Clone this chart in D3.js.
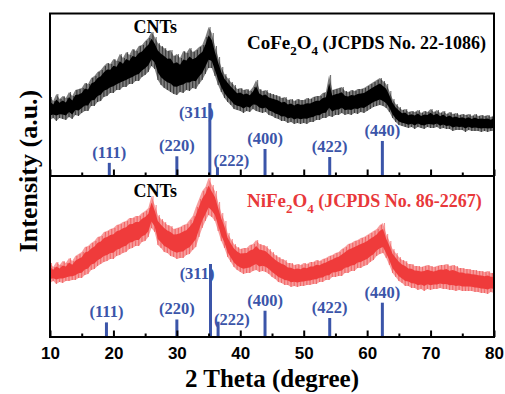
<!DOCTYPE html>
<html>
<head>
<meta charset="utf-8">
<script src="https://cdn.jsdelivr.net/npm/d3@7"></script>
<style>
  body { margin: 0; background: #fff; }
  svg { display: block; }
</style>
</head>
<body>
<div id="chart"></div>
<script>

// 2 theta grid of the scans (every 0.5 degree, 10 - 80)
var twoTheta = d3.range(0, 141).map(function(i) { return 10 + i * 0.5; });

// CoFe2O4 scan: upper and lower edge of the noisy trace (a.u.)
var coUpper = [79, 75, 82, 77, 80, 78, 84, 80, 86, 87,
  88, 93, 92, 98, 100, 104, 106, 110, 113, 112,
  117, 115, 122, 118, 124, 121, 127, 125, 130, 131,
  135, 138, 144, 139, 133, 130, 128, 125, 126, 120,
  122, 118, 125, 123, 128, 124, 126, 129, 131, 139,
  149, 143, 130, 119, 109, 102, 98, 94, 91, 87,
  88, 86, 87, 85, 89, 96, 87, 85, 86, 83,
  82, 81, 80, 78, 79, 76, 77, 75, 77, 76,
  76, 78, 77, 79, 80, 80, 83, 84, 101, 86,
  87, 88, 89, 85, 84, 86, 85, 87, 87, 88,
  90, 92, 94, 96, 98, 95, 92, 85, 77, 72,
  69, 66, 67, 64, 65, 64, 66, 63, 65, 64,
  67, 64, 66, 63, 65, 62, 64, 62, 63, 61,
  62, 61, 62, 60, 62, 60, 61, 60, 61, 59,
  61];
var coLower = [56, 58, 55, 58, 57, 56, 59, 57, 61, 60,
  63, 65, 65, 70, 70, 74, 75, 79, 80, 83,
  83, 86, 86, 89, 89, 92, 92, 95, 95, 99,
  101, 104, 110, 107, 96, 91, 88, 86, 84, 82,
  81, 84, 83, 86, 85, 88, 87, 92, 96, 102,
  108, 108, 100, 91, 84, 78, 74, 71, 67, 66,
  65, 63, 65, 64, 67, 65, 64, 63, 64, 61,
  60, 58, 57, 55, 55, 53, 54, 52, 53, 52,
  53, 52, 54, 54, 56, 56, 58, 58, 60, 59,
  61, 61, 63, 61, 62, 61, 63, 62, 64, 63,
  65, 67, 69, 70, 71, 70, 68, 64, 58, 54,
  51, 50, 49, 48, 49, 47, 49, 48, 47, 49,
  48, 48, 49, 47, 48, 47, 47, 45, 46, 46,
  46, 44, 46, 45, 45, 45, 44, 45, 44, 45,
  45];

// NiFe2O4 scan
var niUpper = [74, 70, 75, 72, 76, 74, 79, 76, 81, 83,
  85, 90, 91, 94, 96, 100, 101, 105, 106, 108,
  109, 112, 113, 115, 116, 119, 119, 121, 121, 124,
  126, 129, 141, 132, 122, 118, 115, 112, 111, 108,
  109, 110, 112, 113, 117, 121, 130, 138, 146, 150,
  159, 152, 146, 135, 124, 116, 104, 98, 93, 90,
  88, 89, 89, 92, 93, 97, 93, 92, 91, 88,
  85, 82, 80, 78, 77, 74, 74, 72, 73, 72,
  74, 73, 75, 75, 77, 76, 78, 79, 81, 82,
  84, 85, 88, 90, 93, 94, 96, 97, 99, 100,
  102, 104, 106, 108, 112, 114, 103, 96, 88, 84,
  80, 77, 76, 73, 73, 71, 71, 70, 71, 72,
  71, 70, 71, 72, 72, 73, 71, 72, 71, 69,
  69, 68, 68, 67, 67, 66, 66, 65, 66, 64,
  64];
var niLower = [54, 56, 53, 55, 54, 56, 56, 57, 57, 59,
  59, 62, 63, 67, 68, 71, 73, 75, 76, 78,
  78, 81, 82, 84, 85, 88, 89, 91, 91, 95,
  96, 100, 109, 105, 92, 89, 85, 84, 81, 80,
  78, 79, 79, 82, 83, 87, 90, 100, 109, 116,
  122, 120, 116, 106, 96, 89, 80, 75, 70, 67,
  65, 63, 64, 64, 66, 67, 65, 66, 65, 63,
  60, 58, 55, 54, 52, 52, 50, 51, 50, 51,
  51, 52, 52, 53, 53, 55, 55, 57, 57, 60,
  60, 61, 61, 64, 64, 66, 66, 69, 69, 71,
  72, 75, 77, 81, 83, 84, 79, 72, 64, 60,
  56, 54, 51, 51, 49, 49, 47, 48, 46, 48,
  47, 48, 48, 49, 48, 48, 47, 47, 46, 47,
  46, 46, 46, 46, 45, 45, 44, 44, 43, 45,
  44];

// reference patterns (JCPDS sticks)
var hkl = ["(111)", "(220)", "(311)", "(222)", "(400)", "(422)", "(440)"];
var coPeaks = [19.35, 30.0, 35.2, 36.4, 43.9, 54.1, 62.4];
var coRel = [18, 27, 100, 12, 37, 26, 48];
var niPeaks = [18.9, 30.0, 35.3, 36.5, 43.9, 54.1, 62.4];
var niRel = [20, 24, 100, 21, 36, 26, 47];

var xTicks = [10, 20, 30, 40, 50, 60, 70, 80];
var xMinor = [15, 25, 35, 45, 55, 65, 75];

var width = 505, height = 394;
var left = 50, right = 494;
var serif = "'Liberation Serif', 'Times New Roman', serif";
var sans = "'Liberation Sans', Arial, sans-serif";
var blue = "#3b55a9";

var svg = d3.select("#chart").append("svg")
  .attr("width", width)
  .attr("height", height);

var x = d3.scaleLinear().domain([10, 80]).range([left, right]);

function panel(p) {
  var y = d3.scaleLinear().domain([0, p.bottom - p.top]).range([p.bottom, p.top]);
  var ys = d3.scaleLinear().domain([0, 100]).range([p.bottom, p.bottom - 73]);

  var g = svg.append("g");
  g.append("clipPath").attr("id", p.id)
    .append("rect")
    .attr("x", left).attr("y", p.top)
    .attr("width", right - left).attr("height", p.bottom - p.top);

  var pts = twoTheta.map(function(t, i) {
    return { t: t, hi: p.upper[i], lo: p.lower[i] };
  });

  var curve = g.append("g").attr("clip-path", "url(#" + p.id + ")");

  // faint outer envelope (the spikes)
  curve.append("path")
    .datum(pts)
    .attr("fill", p.color)
    .attr("opacity", 0.5)
    .attr("d", d3.area()
      .x(function(d) { return x(d.t); })
      .y0(function(d) { return y(d.lo); })
      .y1(function(d) { return y(d.hi); }));

  // min-max trace, thin
  var zig = "";
  pts.forEach(function(d, i) {
    zig += (i ? "L" : "M") + x(d.t) + "," + y(d.lo) + "L" + (x(d.t) + 1.5) + "," + y(d.hi);
  });
  curve.append("path")
    .attr("d", zig)
    .attr("fill", "none")
    .attr("stroke", p.color)
    .attr("stroke-opacity", 0.6)
    .attr("stroke-width", 0.6);

  // dense core
  curve.append("path")
    .datum(pts)
    .attr("fill", p.color)
    .attr("d", d3.area()
      .x(function(d) { return x(d.t); })
      .y0(function(d) { return y((d.hi + d.lo) / 2 - (d.hi - d.lo) * 0.3); })
      .y1(function(d) { return y((d.hi + d.lo) / 2 + (d.hi - d.lo) * 0.3); }));

  // hkl labels
  g.selectAll(".hkl")
    .data(hkl)
    .enter().append("text")
    .attr("x", function(d, i) {
      if (d == "(311)") return x(p.peaks[i]) + 4;
      if (d == "(222)") return x(p.peaks[i]) - 4;
      return x(p.peaks[i]);
    })
    .attr("y", function(d, i) {
      if (d == "(311)") return ys(p.rel[i]) + 15;
      if (d == "(222)") return p.bottom - p.lab222;
      return ys(p.rel[i]) - 5;
    })
    .attr("text-anchor", function(d) {
      if (d == "(311)") return "end";
      if (d == "(222)") return "start";
      return "middle";
    })
    .style("font-family", serif)
    .style("font-weight", "bold")
    .style("font-size", "16.5px")
    .style("fill", blue)
    .text(function(d) { return d; });

  // sticks
  g.selectAll(".stick")
    .data(p.rel)
    .enter().append("line")
    .attr("x1", function(d, i) { return x(p.peaks[i]); })
    .attr("x2", function(d, i) { return x(p.peaks[i]); })
    .attr("y1", p.bottom)
    .attr("y2", function(d) { return ys(d); })
    .attr("stroke", blue)
    .attr("stroke-width", 3);

  // CNTs
  g.append("text")
    .attr("x", x(26.6))
    .attr("y", p.top + p.cntY)
    .attr("text-anchor", "middle")
    .style("font-family", serif)
    .style("font-weight", "bold")
    .style("font-size", "18px")
    .text("CNTs");

  // phase label
  var lab = g.append("text")
    .attr("x", 247)
    .attr("y", p.top + p.labY)
    .style("font-family", serif)
    .style("font-weight", "bold")
    .style("font-size", "19px")
    .style("fill", p.textColor);
  lab.append("tspan").text(p.phase[0]);
  lab.append("tspan").attr("dy", 6).style("font-size", "13px").text("2");
  lab.append("tspan").attr("dy", -6).text("O");
  lab.append("tspan").attr("dy", 6).style("font-size", "13px").text("4");
  lab.append("tspan").attr("dy", -6).style("font-size", "18px").text(" (JCPDS No. " + p.phase[1] + ")");

  // inward ticks at the bottom of the panel
  var ax = g.append("g")
    .attr("transform", "translate(0," + p.bottom + ")")
    .call(d3.axisTop(x).tickValues(xTicks.concat(xMinor)).tickSize(6).tickFormat(""));
  ax.select(".domain").remove();
  ax.selectAll(".tick line")
    .attr("stroke", "#000")
    .attr("stroke-width", 2)
    .attr("y2", function(d) { return xMinor.indexOf(d) >= 0 ? -3.5 : -6.5; });

  // frame
  g.append("rect")
    .attr("x", left).attr("y", p.top)
    .attr("width", right - left).attr("height", p.bottom - p.top)
    .attr("fill", "none")
    .attr("stroke", "#000")
    .attr("stroke-width", 2);
}

panel({ id: "clipCo", top: 13.5, bottom: 176, upper: coUpper, lower: coLower,
  peaks: coPeaks, rel: coRel, color: "#000", textColor: "#000",
  phase: ["CoFe", "22-1086"], labY: 35, cntY: 19, lab222: 10 });

panel({ id: "clipNi", top: 176, bottom: 337, upper: niUpper, lower: niLower,
  peaks: niPeaks, rel: niRel, color: "#ef3b3b", textColor: "#e8383a",
  phase: ["NiFe", "86-2267"], labY: 31, cntY: 21, lab222: 12 });

// x tick labels
var xl = svg.append("g")
  .attr("transform", "translate(0,337)")
  .call(d3.axisBottom(x).tickValues(xTicks).tickSize(0).tickFormat(d3.format("d")));
xl.select(".domain").remove();
xl.selectAll("text")
  .attr("y", 22)
  .attr("dy", 0)
  .style("font-family", sans)
  .style("font-weight", "bold")
  .style("font-size", "17px")
  .style("fill", "#000");

// axis titles
svg.append("text")
  .attr("x", 272)
  .attr("y", 387)
  .attr("text-anchor", "middle")
  .style("font-family", serif)
  .style("font-weight", "bold")
  .style("font-size", "25px")
  .text("2 Theta (degree)");

svg.append("text")
  .attr("transform", "translate(37,171)rotate(-90)")
  .attr("text-anchor", "middle")
  .style("font-family", serif)
  .style("font-weight", "bold")
  .style("font-size", "26px")
  .text("Intensity (a.u.)");

</script>
</body>
</html>
